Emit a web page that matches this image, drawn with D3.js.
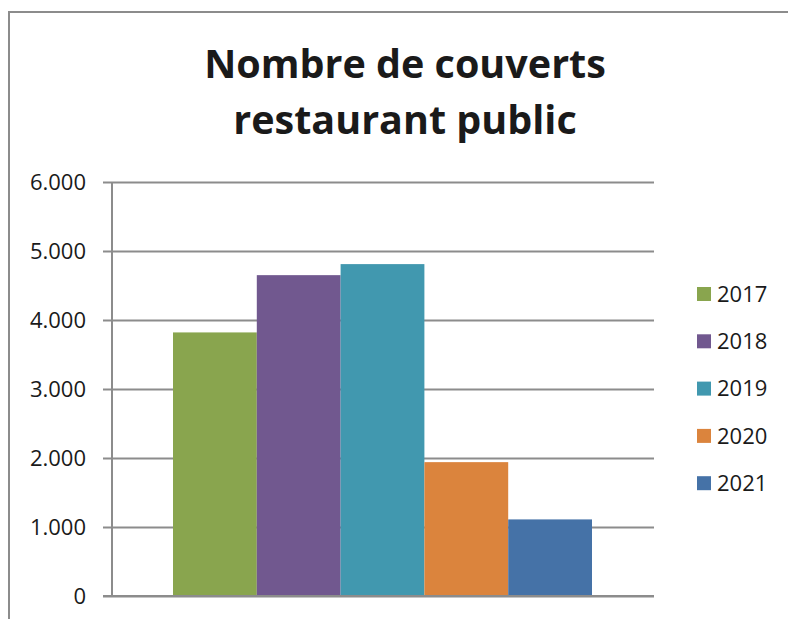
<!DOCTYPE html>
<html>
<head>
<meta charset="utf-8">
<script src="https://cdn.jsdelivr.net/npm/d3@7"></script>
<style>
  body { margin: 0; background: #fff; }
  svg { display: block; }
  text { font-family: "Open Sans", "Noto Sans", sans-serif; fill: #1a1a1a; }
</style>
</head>
<body>
<svg id="chart"></svg>
<script>
// Data
const titleLines = ['Nombre de couverts', 'restaurant public'];
const years = ['2017', '2018', '2019', '2020', '2021'];
const couverts = [3820, 4650, 4810, 1940, 1110];
const colors = ['#89A54E', '#71588F', '#4198AF', '#DB843D', '#4572A7'];
const yTicks = [0, 1000, 2000, 3000, 4000, 5000, 6000];

const width = 788;
const height = 619;

const svg = d3.select('#chart')
    .attr('width', width)
    .attr('height', height);

// outer chart frame (right and bottom edges run off the picture)
svg.append('rect')
    .attr('x', 9)
    .attr('y', 12)
    .attr('width', 800)
    .attr('height', 700)
    .attr('fill', 'none')
    .attr('stroke', '#8c8c8c')
    .attr('stroke-width', 2);

// title
svg.append('text')
    .attr('text-anchor', 'middle')
    .style('font-weight', 'bold')
    .style('font-size', '39.5px')
    .selectAll('tspan')
    .data(titleLines)
    .enter()
    .append('tspan')
    .attr('x', 405)
    .attr('y', (d, i) => 78 + i * 56)
    .text(d => d);

// plot area
const plot = {left: 112, right: 654, top: 182, bottom: 596};

const yScale = d3.scaleLinear()
    .domain([0, 6000])
    .range([plot.bottom, plot.top]);

// one category, five series side by side (gap width ~150%)
const xScale = d3.scaleBand()
    .domain(years)
    .range([173, 592]);

const fmt = d => d3.format(',')(d).replace(/,/g, '.');

// gridlines and y axis
const yAxis = d3.axisLeft(yScale)
    .tickValues(yTicks)
    .tickFormat(fmt)
    .tickSize(9)
    .tickPadding(17);

const gAxis = svg.append('g')
    .attr('transform', `translate(${plot.left},0)`)
    .call(yAxis);

gAxis.select('.domain')
    .attr('stroke', '#8c8c8c')
    .attr('stroke-width', 2)
    .attr('d', `M0,${plot.top}V${plot.bottom}`);

gAxis.selectAll('.tick line')
    .attr('stroke', '#8c8c8c')
    .attr('stroke-width', 2)
    .attr('x1', -9)
    .attr('x2', plot.right - plot.left);

gAxis.selectAll('.tick text')
    .style('font-size', '22px')
    .attr('fill', '#1a1a1a');

// bars
svg.append('g')
    .selectAll('rect')
    .data(couverts)
    .enter()
    .append('rect')
    .attr('x', (d, i) => xScale(years[i]))
    .attr('y', d => yScale(d))
    .attr('width', xScale.bandwidth())
    .attr('height', d => yScale(0) - yScale(d))
    .attr('fill', (d, i) => colors[i]);

// redraw the axis line on top of bars at zero
svg.append('line')
    .attr('x1', plot.left - 9)
    .attr('x2', plot.right)
    .attr('y1', yScale(0))
    .attr('y2', yScale(0))
    .attr('stroke', '#8c8c8c')
    .attr('stroke-width', 2);

// legend
const legend = svg.append('g')
    .selectAll('g')
    .data(years)
    .enter()
    .append('g')
    .attr('transform', (d, i) => `translate(697,${294 + i * 47.3})`);

legend.append('rect')
    .attr('x', 0)
    .attr('y', -7)
    .attr('width', 14)
    .attr('height', 14)
    .attr('fill', (d, i) => colors[i]);

legend.append('text')
    .attr('x', 20)
    .attr('y', 0)
    .attr('dy', '0.35em')
    .style('font-size', '22px')
    .text(d => d);
</script>
</body>
</html>
